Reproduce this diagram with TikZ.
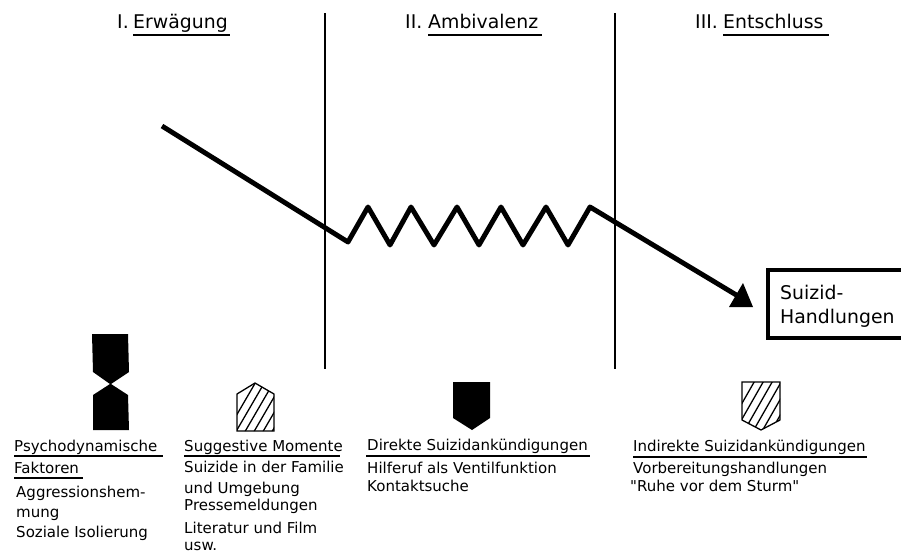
\documentclass[tikz,border=0pt]{standalone}
\usepackage{fontspec}
\setmainfont{DejaVu Sans}
\newfontfamily\quotefont{DejaVu Sans}
\tikzset{
  txt/.style={anchor=base west,inner sep=0pt,font=\fontsize{12.8}{13}\selectfont},
  head/.style={anchor=base west,inner sep=0pt,font=\fontsize{16.1}{17}\selectfont},
  uline/.style={black,line width=1.1pt},
  phase/.style={black,line width=0.9pt},
  hatchline/.style={black,line width=1.1pt}
}
\begin{document}
\begin{tikzpicture}[x=0.03cm,y=0.03cm]
\useasboundingbox (0,0) rectangle (901,-553);
% phase lines
\coordinate (p1a) at (325,-13);
\coordinate (p1b) at (325,-369);
\coordinate (p2a) at (615,-13);
\coordinate (p2b) at (615,-369);
\draw [phase] (p1a) -- (p1b);
\draw [phase] (p2a) -- (p2b);
% headings
\node [head] (n1) at (117,-28) {I.};
\node [head] (h1) at (133,-28) {Erwägung};
\node [head] (n2) at (405,-28) {II.};
\node [head] (h2) at (428,-28) {Ambivalenz};
\node [head] (n3) at (695,-28) {III.};
\node [head] (h3) at (723,-28) {Entschluss};
\draw [uline] (133,-35) -- (230,-35);
\draw [uline] (428,-35) -- (542,-35);
\draw [uline] (723,-35) -- (829,-35);
% course
\coordinate (start) at (162,-126);
\coordinate (tip) at (738,-296);
\draw [black,line width=4.2pt,line join=round] (start) -- (348,-242) -- (368,-207) -- (390,-245) -- (411,-207) -- (434,-245) -- (457,-207) -- (479,-245) -- (501,-207) -- (523,-245) -- (546,-207) -- (568,-245) -- (590,-207) -- (tip);
\fill [black] (743,-283) -- (753,-307) -- (729,-307) -- cycle;
% end box
\draw [black,line width=4.2pt] (904,-270) -- (768,-270) -- (768,-338) -- (904,-338);
\node [head] (box1) at (780,-299) {Suizid-};
\node [head] (box2) at (780,-323) {Handlungen};
% markers
\fill [black] (92,-334) -- (128,-334) -- (129,-372) -- (111,-384) -- (128,-395) -- (129,-430) -- (93,-430) -- (93,-395) -- (110,-384) -- (93,-372) -- cycle;
\begin{scope}
\clip (237,-394) -- (255,-383) -- (274,-394) -- (274,-431) -- (237,-431) -- cycle;
\foreach \x in {0,9,...,63} \draw [hatchline] (225+\x,-435) -- (225+\x+32,-380);
\end{scope}
\draw [hatchline] (237,-394) -- (255,-383) -- (274,-394) -- (274,-431) -- (237,-431) -- cycle;
\fill [black] (453,-382) -- (490,-382) -- (490,-418) -- (472,-430) -- (453,-418) -- cycle;
\begin{scope}
\clip (742,-382) -- (780,-382) -- (780,-420) -- (761,-430) -- (742,-420) -- cycle;
\foreach \x in {0,9,...,72} \draw [hatchline] (725+\x,-433) -- (725+\x+32,-377);
\end{scope}
\draw [hatchline] (742,-382) -- (780,-382) -- (780,-420) -- (761,-430) -- (742,-420) -- cycle;
% column 1
\node [txt] (a1) at (14,-451) {Psychodynamische};
\draw [uline] (14,-456) -- (163,-456);
\node [txt] (a2) at (14,-473) {Faktoren};
\draw [uline] (14,-478) -- (83,-478);
\node [txt] (a3) at (16,-497) {Aggressionshem-};
\node [txt] (a4) at (16,-517) {mung};
\node [txt] (a5) at (16,-537) {Soziale Isolierung};
% column 2
\node [txt] (b1) at (184,-451) {Suggestive Momente};
\draw [uline] (184,-456) -- (340,-456);
\node [txt] (b2) at (184,-472) {Suizide in der Familie};
\node [txt] (b3) at (184,-493) {und Umgebung};
\node [txt] (b4) at (184,-510) {Pressemeldungen};
\node [txt] (b5) at (184,-533) {Literatur und Film};
\node [txt] (b6) at (184,-550) {usw.};
% column 3
\node [txt] (c1) at (367,-450) {Direkte Suizidankündigungen};
\draw [uline] (366,-456) -- (590,-456);
\node [txt] (c2) at (367,-473) {Hilferuf als Ventilfunktion};
\node [txt] (c3) at (367,-491) {Kontaktsuche};
% column 4
\node [txt] (d1) at (633,-451) {Indirekte Suizidankündigungen};
\draw [uline] (633,-457) -- (867,-457);
\node [txt] (d2) at (633,-473) {Vorbereitungshandlungen};
\node [txt] (d3) at (630,-491) {\quotefont "Ruhe vor dem Sturm"};
\end{tikzpicture}
\end{document}
